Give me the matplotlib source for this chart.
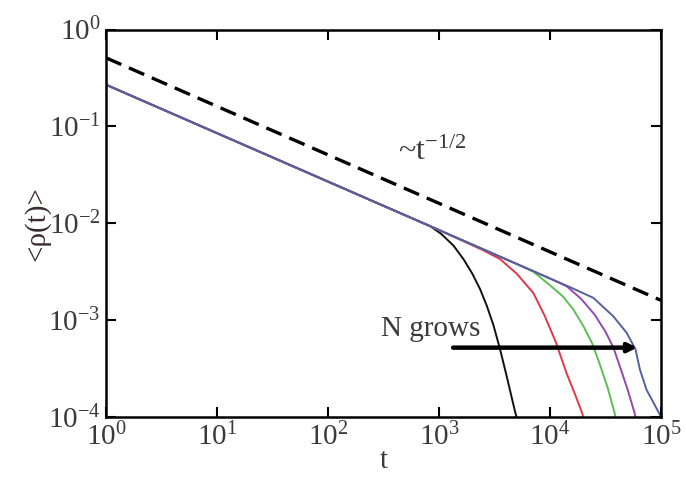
import numpy as np
import matplotlib
matplotlib.use("Agg")
import matplotlib.pyplot as plt

plt.rcParams['font.family'] = ['Liberation Serif', 'DejaVu Serif']
plt.rcParams['mathtext.fontset'] = 'custom'
plt.rcParams['mathtext.rm'] = 'Liberation Serif'
plt.rcParams['mathtext.it'] = 'Liberation Serif:italic'
plt.rcParams['lines.scale_dashes'] = False

# ---- data (log10 values) ----
black_logt = [0, 1, 2, 2.8, 2.92, 3.02, 3.13, 3.22, 3.30, 3.37, 3.43, 3.49, 3.55, 3.61, 3.68, 3.71]
black_logr = [-0.57, -1.07, -1.57, -1.97, -2.03, -2.11, -2.23, -2.37, -2.52, -2.68, -2.85, -3.05, -3.30, -3.58, -3.92, -4.05]

red_logt = [0, 1, 2, 3, 3.40, 3.55, 3.70, 3.85, 3.95, 4.05, 4.15, 4.22, 4.29, 4.31]
red_logr = [-0.57, -1.07, -1.57, -2.07, -2.28, -2.37, -2.52, -2.72, -2.95, -3.22, -3.55, -3.75, -3.96, -4.05]

green_logt = [0, 1, 2, 3, 3.70, 3.85, 4.00, 4.12, 4.21, 4.30, 4.38, 4.45, 4.52, 4.58, 4.60]
green_logr = [-0.57, -1.07, -1.57, -2.07, -2.42, -2.50, -2.64, -2.76, -2.89, -3.06, -3.24, -3.46, -3.70, -3.95, -4.05]

purple_logt = [0, 1, 2, 3, 4.0, 4.15, 4.28, 4.40, 4.50, 4.57, 4.63, 4.70, 4.76, 4.78]
purple_logr = [-0.57, -1.07, -1.57, -2.07, -2.57, -2.65, -2.78, -2.94, -3.12, -3.28, -3.48, -3.72, -3.95, -4.05]

blue_logt = [0, 1, 2, 3, 4.0, 4.2, 4.39, 4.57, 4.69, 4.77, 4.81, 4.87, 4.95, 5.0]
blue_logr = [-0.57, -1.07, -1.57, -2.07, -2.57, -2.67, -2.77, -2.96, -3.13, -3.30, -3.51, -3.72, -3.89, -4.0]

dash_t = [1, 1e5]
dash_rho = [0.51, 0.0016]

arrow_t = [1.34e3, 6.1e4]
arrow_rho = 5.2e-4

series = [
    (black_logt, black_logr, '#111111'),
    (red_logt, red_logr, '#e03a48'),
    (green_logt, green_logr, '#5cbf55'),
    (purple_logt, purple_logr, '#9448b0'),
    (blue_logt, blue_logr, '#56609e'),
]

fig = plt.figure(figsize=(6.86, 4.83), dpi=100)
ax = fig.add_axes([106/686, 1-417/483, (661-106)/686, (417-29.5)/483])

for lt, lr, c in series:
    ax.plot(10**np.array(lt), 10**np.array(lr), color=c, lw=1.4)

ax.plot(dash_t, dash_rho, color='black', lw=2.4, dashes=(12, 6))

ax.annotate('', xy=(arrow_t[1], arrow_rho), xytext=(arrow_t[0], arrow_rho),
            arrowprops=dict(arrowstyle='-|>', lw=3.2, color='black',
                            mutation_scale=13, shrinkA=0, shrinkB=0))

ax.set_xscale('log')
ax.set_yscale('log')
ax.set_xlim(1, 1e5)
ax.set_ylim(1e-4, 1)
ax.set_xticks([1, 10, 100, 1e3, 1e4, 1e5])
ax.set_yticks([1e-4, 1e-3, 1e-2, 1e-1, 1])
ax.minorticks_off()

txtc = '#3a3a3a'
ax.tick_params(which='major', direction='in', length=7, width=1.5,
               top=True, right=True, labelsize=21, labelcolor=txtc, pad=4)
for s in ax.spines.values():
    s.set_linewidth(1.8)

ax.set_xlabel('t', fontsize=21, color=txtc, labelpad=-2)
ax.set_ylabel('<ρ(t)>', fontsize=21, color='#3a2a2a', labelpad=-2)

ax.text(10**2.63, 10**-1.35, r'~t$^{-1/2}$', fontsize=23, color=txtc,
        ha='left', va='baseline')
ax.text(10**2.48, 10**-3.16, 'N grows', fontsize=21, color=txtc,
        ha='left', va='baseline')

fig.savefig('out.png', dpi=100)
